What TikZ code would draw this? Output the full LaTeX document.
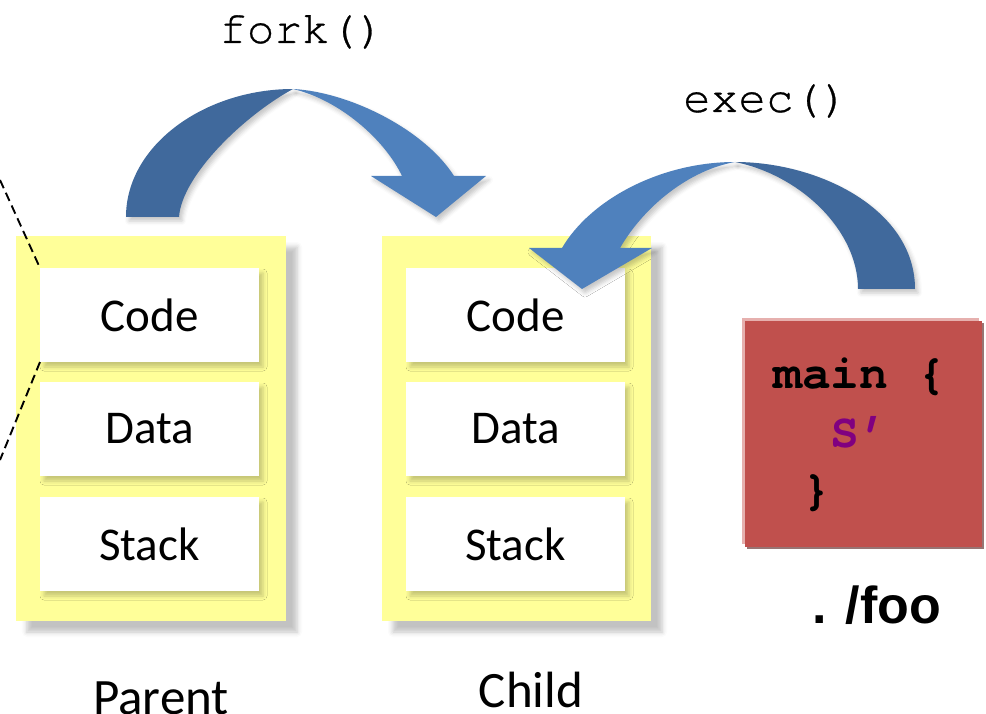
\documentclass[tikz,border=0pt]{standalone}
\usepackage{fontspec}
\setmainfont{Carlito}
\newfontfamily\codefont{TeX Gyre Cursor}
\newfontfamily\callfont[FakeBold=0.6]{TeX Gyre Cursor}
\newfontfamily\labelfont{Liberation Sans}
\usetikzlibrary{shadows.blur}

\definecolor{memyellow}{HTML}{FFFF99}
\definecolor{arrowdark}{HTML}{40699C}
\definecolor{arrowlight}{HTML}{4F81BD}
\definecolor{progred}{HTML}{C0504D}
\definecolor{progedge}{HTML}{E6B0AE}
\definecolor{progshade}{HTML}{987473}
\definecolor{codepurple}{HTML}{800080}

\begin{document}
\begin{tikzpicture}[x=1pt,y=-1pt,
  memory/.style={fill=memyellow, draw=none, inner sep=0pt, outer sep=0pt,
    minimum height=385pt,
    blur shadow={shadow xshift=11pt, shadow yshift=-11pt,
      shadow blur radius=5pt, shadow opacity=24}},
  segbox/.style={fill=white, draw=none, inner sep=0pt, outer sep=0pt,
    minimum width=219pt, minimum height=94pt,
    font=\fontsize{47}{56}\selectfont,
    blur shadow={shadow xshift=4pt, shadow yshift=-5pt,
      shadow blur radius=4pt, shadow opacity=22}},
  caption/.style={anchor=base, inner sep=0pt, font=\fontsize{51}{60}\selectfont},
  syscall/.style={anchor=base, inner sep=0pt, font=\callfont\fontsize{46}{54}\selectfont},
  codeline/.style={anchor=base west, inner sep=0pt, font=\codefont\bfseries\fontsize{48}{56}\selectfont},
  bigarrow/.style={blur shadow={shadow xshift=3pt, shadow yshift=-4pt,
      shadow blur radius=4pt, shadow opacity=22}},
  guide/.style={dashed, line width=1.9pt, dash pattern=on 9pt off 5pt}
]
\useasboundingbox (0,0) rectangle (986,714);

% address spaces
\node[memory, minimum width=270pt] (parent) at (151,428.5) {};
\node[memory, minimum width=269pt] (child) at (516.5,428.5) {};

\node[segbox] (pcode)  at (149.5,315) {Code};
\node[segbox] (pdata)  at (149.5,429) {Data};
\node[segbox] (pstack) at (149.5,544) {Stack};

\node[segbox] (ccode)  at (515.5,315) {Code};
\node[segbox] (cdata)  at (515.5,429) {Data};
\node[segbox] (cstack) at (515.5,544) {Stack};

\node[caption] (plabel) at (161,714) {Parent};
\node[caption] (clabel) at (531,707) {Child};

% zoom-out guides towards the parent's code segment
\coordinate (gtop) at (0,180);
\coordinate (gbot) at (0,460);
\draw[guide] (gtop) -- (pcode.north west);
\draw[guide] (pcode.south west) -- (gbot);

% program image on disk
\fill[progedge] (742,318) rectangle (979,544);
\fill[progshade] (747,323) rectangle (984,549);
\node[fill=progred, inner sep=0pt, outer sep=0pt, minimum width=237pt,
  minimum height=226pt] (prog) at (863.5,434) {};
\node[codeline] (l1) at (773,388) {main \{};
\node[codeline, text=codepurple] (l2) at (830.6,447) {S’};
\node[codeline] (l3) at (801.8,504) {\}};
\node[anchor=base west, inner sep=0pt, font=\labelfont\bfseries\fontsize{52}{60}\selectfont]
  (foo) at (812,623) {. /foo};

% fork() arrow: parent -> child
\fill[arrowdark, bigarrow] (126,217) .. controls (126,145) and (205,89) .. (293,89)
  .. controls (245,115) and (182,175) .. (179,217) -- cycle;
\fill[arrowlight, bigarrow] (293,89) .. controls (350,92) and (425,130) .. (454,176)
  -- (486,176) -- (436,217) -- (371,176) -- (402,176)
  .. controls (385,140) and (340,100) .. (293,89) -- cycle;
\node[syscall] (fork) at (302,43) {fork()};

% exec() arrow: program -> child
\fill[arrowdark, bigarrow] (735,162) .. controls (820,162) and (915,210) .. (915,289)
  -- (858,289) .. controls (858,230) and (800,175) .. (735,162) -- cycle;
\fill[arrowlight, bigarrow] (735,162) .. controls (660,162) and (590,200) .. (562,248)
  -- (529,248) -- (582,289) -- (652,248) -- (620,248)
  .. controls (645,205) and (690,170) .. (735,162) -- cycle;
\node[syscall] (exec) at (766,112) {exec()};
\end{tikzpicture}
\end{document}
